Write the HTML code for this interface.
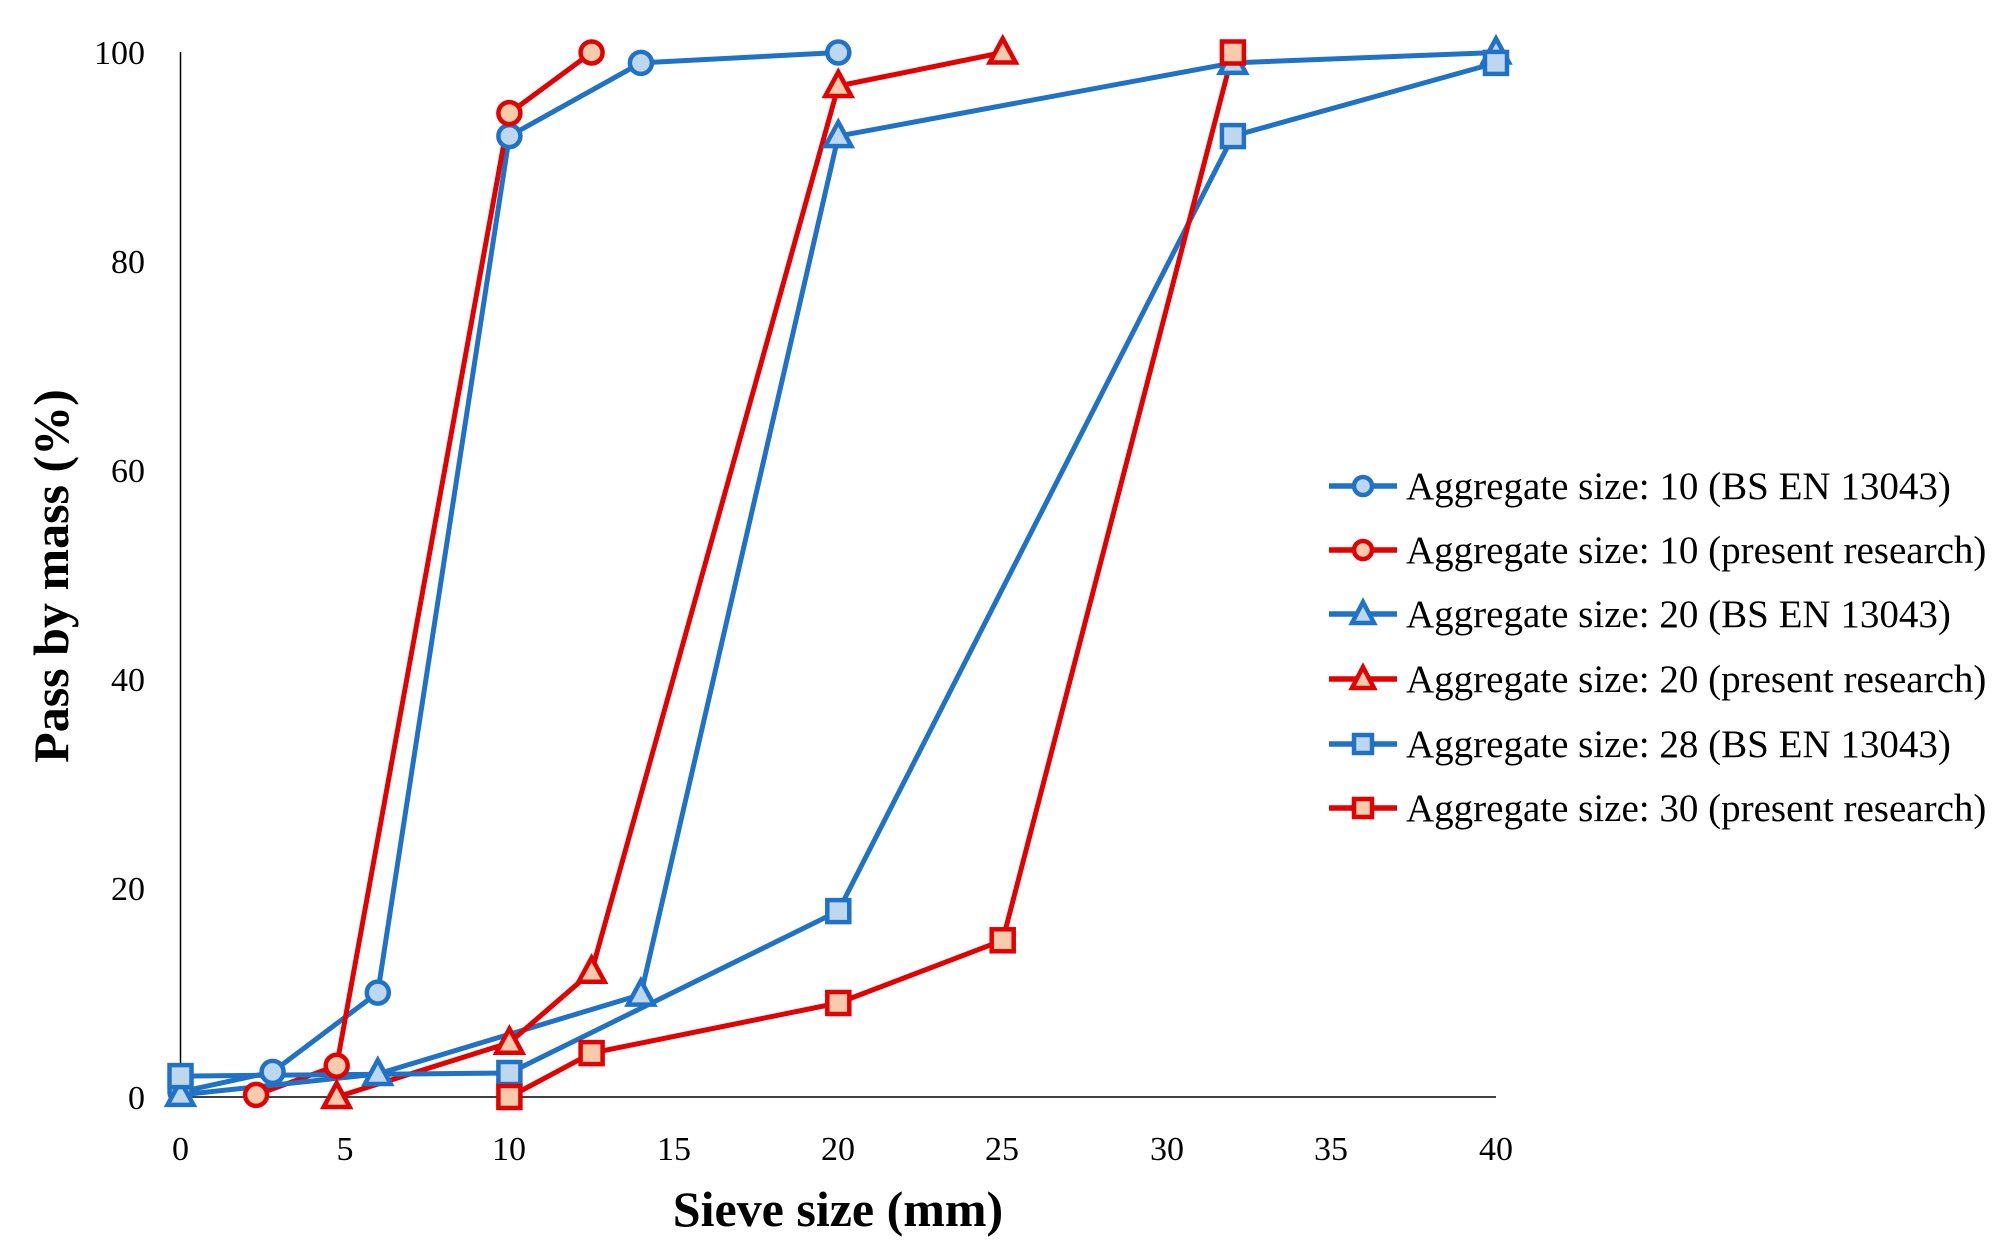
<!DOCTYPE html>
<html><head><meta charset="utf-8"><style>body{margin:0;background:#fff}</style></head><body>
<svg width="2007" height="1253" viewBox="0 0 2007 1253" xmlns="http://www.w3.org/2000/svg" font-family="Liberation Serif, serif">
<defs>
<circle id="c" cx="0" cy="0" r="11" stroke-width="4.5"/>
<rect id="s" x="-11" y="-11" width="22" height="22" stroke-width="4.5"/>
<polygon id="t" points="0,-14 13,10 -13,10" stroke-width="4.5"/>
<circle id="cl" cx="0" cy="0" r="9" stroke-width="4.5"/>
<rect id="sl" x="-9" y="-9" width="18" height="18" stroke-width="4.5"/>
<polygon id="tl" points="0,-12 11,9 -11,9" stroke-width="4.5"/>
</defs>
<rect width="2007" height="1253" fill="#fff"/>
<line x1="180.5" y1="52" x2="180.5" y2="1097" stroke="#000" stroke-width="1.5"/>
<line x1="180" y1="1097" x2="1496" y2="1097" stroke="#000" stroke-width="1.5"/>
<g font-size="34" text-anchor="end">
<text x="145" y="1109">0</text><text x="145" y="900">20</text><text x="145" y="691">40</text><text x="145" y="482">60</text><text x="145" y="273">80</text><text x="145" y="64">100</text>
</g>
<g font-size="34" text-anchor="middle">
<text x="180.5" y="1160">0</text><text x="345" y="1160">5</text><text x="509" y="1160">10</text><text x="674" y="1160">15</text><text x="838" y="1160">20</text><text x="1002" y="1160">25</text><text x="1167" y="1160">30</text><text x="1331" y="1160">35</text><text x="1496" y="1160">40</text>
</g>
<text x="838" y="1226" font-size="50" font-weight="bold" text-anchor="middle">Sieve size (mm)</text>
<text transform="translate(68,576) rotate(-90)" font-size="50" font-weight="bold" text-anchor="middle">Pass by mass (%)</text>
<g fill="none" stroke-width="5" stroke-linejoin="round">
<polyline stroke="#1f72c6" points="180.5,1091.8 272.6,1071.9 377.8,992.6 509.4,136.1 640.9,62.9 838.3,52.5"/>
<polyline stroke="#e30000" points="256.1,1094.9 336.7,1065.7 509.4,113.1 591.6,52.5"/>
<polyline stroke="#1f72c6" points="180.5,1094.9 377.8,1074 640.9,994.6 838.3,136.1 1232.9,62.9 1496,52.5"/>
<polyline stroke="#e30000" points="336.7,1097 509.4,1042.7 591.6,971.7 838.3,86 1002.7,52.5"/>
<polyline stroke="#1f72c6" points="180.5,1076.1 509.4,1073 838.3,911.1 1232.9,136.1 1496,62.9"/>
<polyline stroke="#e30000" points="509.4,1097 591.6,1053.1 838.3,1003 1002.7,940.3 1232.9,52.5"/>
</g>
<g fill="#bdd7ee" stroke="#1f72c6">
<use href="#c" x="180.5" y="1091.8"/><use href="#c" x="272.6" y="1071.9"/><use href="#c" x="377.8" y="992.6"/><use href="#c" x="509.4" y="136.1"/><use href="#c" x="640.9" y="62.9"/><use href="#c" x="838.3" y="52.5"/>
</g>
<g fill="#f8cbad" stroke="#e30000">
<use href="#c" x="256.1" y="1094.9"/><use href="#c" x="336.7" y="1065.7"/><use href="#c" x="509.4" y="113.1"/><use href="#c" x="591.6" y="52.5"/>
</g>
<g fill="#bdd7ee" stroke="#1f72c6">
<use href="#t" x="180.5" y="1094.9"/><use href="#t" x="377.8" y="1074"/><use href="#t" x="640.9" y="994.6"/><use href="#t" x="838.3" y="136.1"/><use href="#t" x="1232.9" y="62.9"/><use href="#t" x="1496" y="52.5"/>
</g>
<g fill="#f8cbad" stroke="#e30000">
<use href="#t" x="336.7" y="1097"/><use href="#t" x="509.4" y="1042.7"/><use href="#t" x="591.6" y="971.7"/><use href="#t" x="838.3" y="86"/><use href="#t" x="1002.7" y="52.5"/>
</g>
<g fill="#bdd7ee" stroke="#1f72c6">
<use href="#s" x="180.5" y="1076.1"/><use href="#s" x="509.4" y="1073"/><use href="#s" x="838.3" y="911.1"/><use href="#s" x="1232.9" y="136.1"/><use href="#s" x="1496" y="62.9"/>
</g>
<g fill="#f8cbad" stroke="#e30000">
<use href="#s" x="509.4" y="1097"/><use href="#s" x="591.6" y="1053.1"/><use href="#s" x="838.3" y="1003"/><use href="#s" x="1002.7" y="940.3"/><use href="#s" x="1232.9" y="52.5"/>
</g>
<!-- legend -->
<g stroke-width="5.5">
<line x1="1329" y1="486" x2="1397" y2="486" stroke="#1f72c6"/>
<line x1="1329" y1="550" x2="1397" y2="550" stroke="#e30000"/>
<line x1="1329" y1="614" x2="1397" y2="614" stroke="#1f72c6"/>
<line x1="1329" y1="679" x2="1397" y2="679" stroke="#e30000"/>
<line x1="1329" y1="744" x2="1397" y2="744" stroke="#1f72c6"/>
<line x1="1329" y1="808" x2="1397" y2="808" stroke="#e30000"/>
</g>
<use href="#cl" x="1363" y="486" fill="#bdd7ee" stroke="#1f72c6"/>
<use href="#cl" x="1363" y="550" fill="#f8cbad" stroke="#e30000"/>
<use href="#tl" x="1363" y="614" fill="#bdd7ee" stroke="#1f72c6"/>
<use href="#tl" x="1363" y="679" fill="#f8cbad" stroke="#e30000"/>
<use href="#sl" x="1363" y="744" fill="#bdd7ee" stroke="#1f72c6"/>
<use href="#sl" x="1363" y="808" fill="#f8cbad" stroke="#e30000"/>
<g font-size="39">
<text x="1406" y="499">Aggregate size: 10 (BS EN 13043)</text>
<text x="1406" y="563">Aggregate size: 10 (present research)</text>
<text x="1406" y="627">Aggregate size: 20 (BS EN 13043)</text>
<text x="1406" y="692">Aggregate size: 20 (present research)</text>
<text x="1406" y="757">Aggregate size: 28 (BS EN 13043)</text>
<text x="1406" y="821">Aggregate size: 30 (present research)</text>
</g>
</svg>
</body></html>
